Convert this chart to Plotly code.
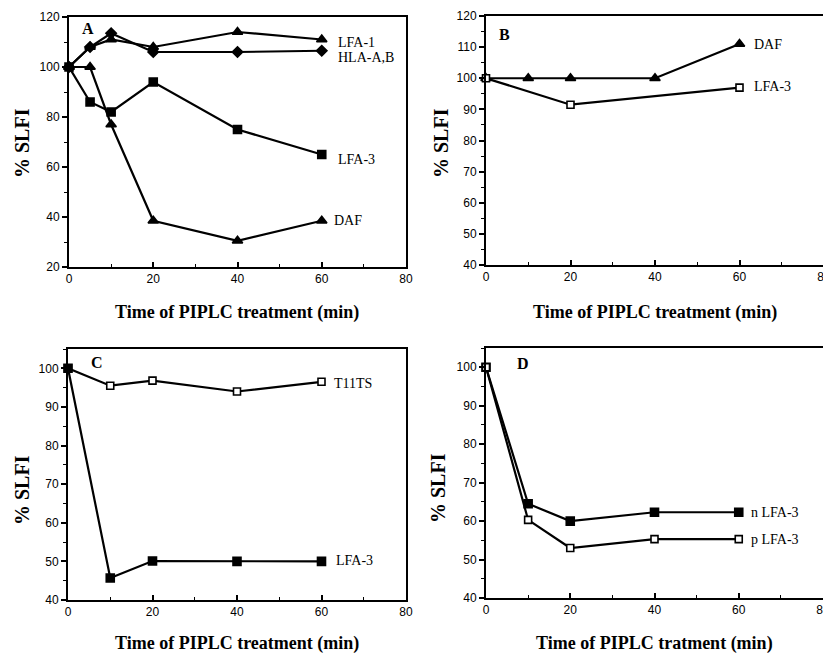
import plotly.graph_objects as go

# ---- data ----
time_a = [0, 5, 10, 20, 40, 60]
lfa1_a = [100, 108, 111, 108, 114, 111]
hla_a = [100, 108, 113.5, 106, 106, 106.5]
lfa3_a = [100, 86, 82, 94, 75, 65]
daf_a = [100, 100, 77, 38.5, 30.5, 38.5]

time_b_daf = [0, 10, 20, 40, 60]
daf_b = [100, 100, 100, 100, 111]
time_b_lfa3 = [0, 20, 60]
lfa3_b = [100, 91.5, 97]

time_c = [0, 10, 20, 40, 60]
t11ts_c = [100, 95.5, 96.8, 94, 96.5]
lfa3_c = [100, 45.7, 50.1, 50, 50]

time_d = [0, 10, 20, 40, 60]
nlfa3_d = [100, 64.5, 60, 62.3, 62.3]
plfa3_d = [100, 60.3, 53, 55.3, 55.3]

x_title = "Time of PIPLC treatment (min)"
x_title_d = "Time of PIPLC tratment (min)"
y_title = "% SLFI"

SERIF = "Liberation Serif"
SANS = "Liberation Sans"

# page offset (browser body margin) compensation
OFF = 8
W, H = 831 - OFF, 653 - OFF

def px(v):
    return (v - OFF) / W

def py(v):
    return 1 - (v - OFF) / H

fig = go.Figure()

def add(x, y, sym, xa, ya, size=8, fill="black"):
    fig.add_trace(go.Scatter(
        x=x, y=y, mode="lines+markers", xaxis=xa, yaxis=ya,
        line=dict(color="black", width=2.2),
        marker=dict(symbol=sym, size=size, color=fill,
                    line=dict(color="black", width=1.6)),
        cliponaxis=False, showlegend=False, hoverinfo="skip"))

# Panel A
add(time_a, lfa1_a, "triangle-up", "x", "y", 9)
add(time_a, hla_a, "diamond", "x", "y", 8)
add(time_a, lfa3_a, "square", "x", "y", 8)
add(time_a, daf_a, "triangle-up", "x", "y", 9)
# Panel B
add(time_b_daf, daf_b, "triangle-up", "x2", "y2", 9)
add(time_b_lfa3, lfa3_b, "square", "x2", "y2", 7, "white")
# Panel C
add(time_c, t11ts_c, "square", "x3", "y3", 7, "white")
add(time_c, lfa3_c, "square", "x3", "y3", 8)
# Panel D
add(time_d, nlfa3_d, "square", "x4", "y4", 8)
add(time_d, plfa3_d, "square", "x4", "y4", 7, "white")

doms = {
    1: ([px(69), px(406)], [py(267), py(17)]),
    2: ([px(486), px(824)], [py(265), py(16)]),
    3: ([px(68), px(406)], [py(600), py(349)]),
    4: ([px(486), px(823)], [py(598), py(348)]),
}
yranges = {1: [20, 120], 2: [40, 120], 3: [40, 105], 4: [40, 105]}
ydticks = {1: 20, 2: 10, 3: 10, 4: 10}

tickfont = dict(family=SANS, size=12, color="black")
layout = {}
for i in range(1, 5):
    sfx = "" if i == 1 else str(i)
    xd, yd = doms[i]
    layout["xaxis" + sfx] = dict(
        domain=xd, range=[0, 80], anchor="y" + sfx, tick0=0, dtick=20,
        automargin=False,
        showgrid=False, zeroline=False, showline=True, linecolor="black",
        linewidth=2, mirror=True, ticks="inside", ticklen=5, tickwidth=1.5,
        tickcolor="black", tickfont=tickfont,
        minor=dict(dtick=10, ticks="inside", ticklen=3, tickwidth=1.2,
                   tickcolor="black", showgrid=False))
    layout["yaxis" + sfx] = dict(
        domain=yd, range=yranges[i], anchor="x" + sfx, tick0=0,
        automargin=False,
        dtick=ydticks[i], showgrid=False, zeroline=False, showline=True,
        linecolor="black", linewidth=2, mirror=True, ticks="outside",
        ticklen=5, tickwidth=1.5, tickcolor="black", tickfont=tickfont,
        minor=dict(dtick=ydticks[i] / 2, ticks="outside", ticklen=3,
                   tickwidth=1.2, tickcolor="black", showgrid=False))

fig.update_layout(**layout)

ann = []
def txt(x, y, t, xref, yref, size=13, bold=False, xanchor="left", angle=0):
    ann.append(dict(x=x, y=y, text=("<b>%s</b>" % t) if bold else t,
                    xref=xref, yref=yref, showarrow=False, xanchor=xanchor,
                    yanchor="middle", textangle=angle,
                    font=dict(family=SERIF, size=size, color="black")))

# axis titles
txt(px(237), py(312), x_title, "paper", "paper", 18, True, "center")
txt(px(655), py(312), x_title, "paper", "paper", 18, True, "center")
txt(px(237), py(643), x_title, "paper", "paper", 18, True, "center")
txt(px(654), py(643), x_title_d, "paper", "paper", 18, True, "center")
txt(px(22), py(143), y_title, "paper", "paper", 20, True, "center", -90)
txt(px(441), py(143), y_title, "paper", "paper", 20, True, "center", -90)
txt(px(22), py(490), y_title, "paper", "paper", 20, True, "center", -90)
txt(px(438), py(488), y_title, "paper", "paper", 20, True, "center", -90)

# panel letters
txt(2.5, 115.5, "A", "x", "y", 16, True)
txt(2.5, 114, "B", "x2", "y2", 16, True)
txt(5, 101.5, "C", "x3", "y3", 16, True)
txt(7, 101, "D", "x4", "y4", 16, True)

# series labels
txt(63.5, 109.8, "LFA-1", "x", "y", 14)
txt(63.3, 103.8, "HLA-A,B", "x", "y", 14)
txt(63.5, 62.8, "LFA-3", "x", "y", 14)
txt(62.5, 38.5, "DAF", "x", "y", 14)
txt(63, 110.8, "DAF", "x2", "y2", 14)
txt(63, 97.2, "LFA-3", "x2", "y2", 14)
txt(62.5, 96.1, "T11TS", "x3", "y3", 14)
txt(63, 50.2, "LFA-3", "x3", "y3", 14)
txt(62.5, 62.2, "n LFA-3", "x4", "y4", 14)
txt(62.5, 55.2, "p LFA-3", "x4", "y4", 14)

fig.update_layout(annotations=ann, width=W, height=H,
                  margin=dict(l=0, r=0, t=0, b=0),
                  paper_bgcolor="white", plot_bgcolor="white")

fig.write_html("out.html")
